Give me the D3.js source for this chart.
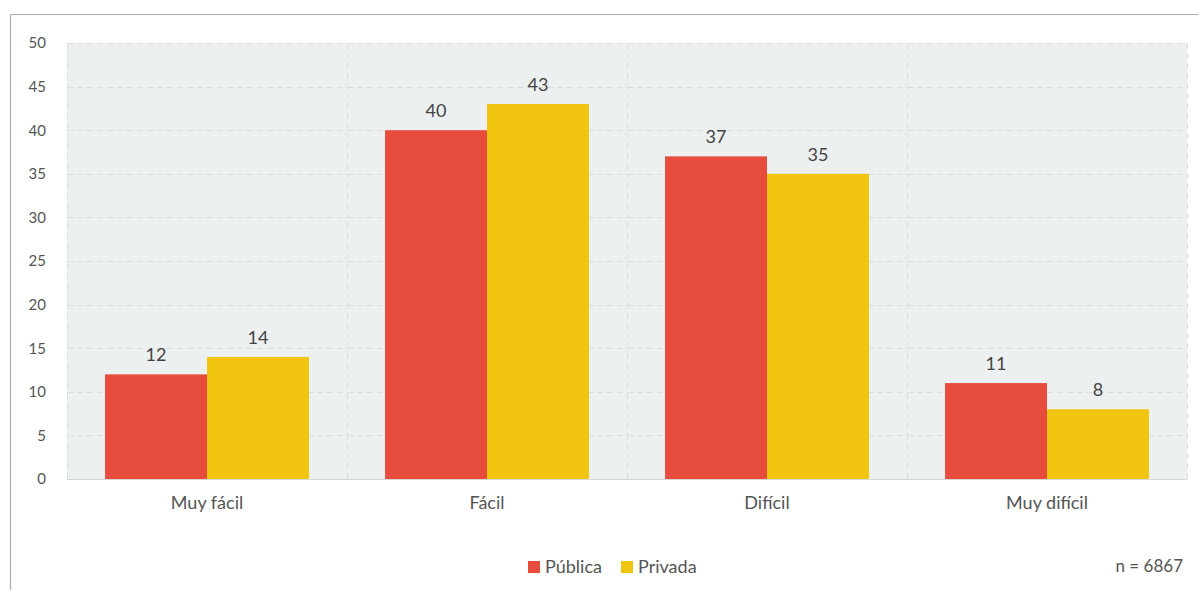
<!DOCTYPE html>
<html>
<head>
<meta charset="utf-8">
<script src="https://cdn.jsdelivr.net/npm/d3@7"></script>
<style>
  html, body { margin: 0; padding: 0; background: #fff; }
  svg { display: block; font-family: Lato, "Open Sans", sans-serif; }
</style>
</head>
<body>
<svg id="chart" width="1198" height="590"></svg>
<script>
// Ease of access by school type (percent)
const categories = ["Muy fácil", "Fácil", "Difícil", "Muy difícil"];
const seriesNames = ["Pública", "Privada"];
const publica = [12, 40, 37, 11];
const privada = [14, 43, 35, 8];
const yTicks = [0, 5, 10, 15, 20, 25, 30, 35, 40, 45, 50];
const colors = ["#E84C3D", "#F1C40F"];
const sampleNote = "n = 6867";

const svg = d3.select("#chart");
const W = 1198, H = 590;
const m = { left: 67, right: 11, top: 43, bottom: 111 };
const plotW = W - m.left - m.right;
const plotH = H - m.top - m.bottom;

// Card frame (top and left edges)
svg.append("line").attr("x1", 10.5).attr("x2", W).attr("y1", 14.5).attr("y2", 14.5)
  .attr("stroke", "#b0aaaa").attr("stroke-width", 1.2);
svg.append("line").attr("x1", 10.5).attr("x2", 10.5).attr("y1", 14.5).attr("y2", H)
  .attr("stroke", "#b0aaaa").attr("stroke-width", 1.2);

const g = svg.append("g").attr("transform", `translate(${m.left},${m.top})`);

const x0 = d3.scaleBand().domain(categories).range([0, plotW]).paddingInner(0).paddingOuter(0);
const x1 = d3.scaleBand().domain(seriesNames).range([0, x0.bandwidth()]).paddingInner(0).paddingOuter(0.373);
const y = d3.scaleLinear().domain([0, 50]).range([plotH, 0]);

// Plot background
g.append("rect").attr("width", plotW).attr("height", plotH).attr("fill", "#ECF0F1");

// Horizontal grid
g.append("g").selectAll("line").data(yTicks).join("line")
  .attr("x1", 0).attr("x2", plotW)
  .attr("y1", d => Math.round(y(d)) + 0.5).attr("y2", d => Math.round(y(d)) + 0.5)
  .attr("stroke", "#d9dfe1").attr("stroke-dasharray", "6,4");

// Vertical grid at band edges
const vEdges = categories.map(c => x0(c)).concat([plotW]);
g.append("g").selectAll("line").data(vEdges).join("line")
  .attr("x1", d => Math.round(d) + 0.5).attr("x2", d => Math.round(d) + 0.5)
  .attr("y1", 0).attr("y2", plotH)
  .attr("stroke", "#d9dfe1").attr("stroke-dasharray", "6,4");

// Bars
const rows = categories.map((c, i) => ({ cat: c, vals: [publica[i], privada[i]] }));
const grp = g.selectAll(".grp").data(rows).join("g")
  .attr("transform", d => `translate(${x0(d.cat)},0)`);

grp.selectAll("rect").data(d => d.vals.map((v, k) => ({ v, k })))
  .join("rect")
  .attr("x", d => x1(seriesNames[d.k]))
  .attr("width", x1.bandwidth())
  .attr("y", d => y(d.v))
  .attr("height", d => plotH - y(d.v))
  .attr("fill", d => colors[d.k]);

grp.selectAll("text").data(d => d.vals.map((v, k) => ({ v, k })))
  .join("text")
  .attr("x", d => x1(seriesNames[d.k]) + x1.bandwidth() / 2)
  .attr("y", d => y(d.v) - 13)
  .attr("text-anchor", "middle")
  .attr("font-size", 18)
  .attr("fill", "#444")
  .text(d => d.v);

// Baseline
g.append("line").attr("x1", 0).attr("x2", plotW).attr("y1", plotH + 0.5).attr("y2", plotH + 0.5)
  .attr("stroke", "#d6d6d6");

// Y axis labels
const yAxis = g.append("g").call(d3.axisLeft(y).tickValues(yTicks).tickSize(0).tickPadding(21));
yAxis.select(".domain").remove();
yAxis.selectAll("text").attr("font-size", 15).attr("fill", "#555")
  .attr("font-family", "Lato, sans-serif");

// X axis labels
const xAxis = g.append("g").attr("transform", `translate(0,${plotH})`)
  .call(d3.axisBottom(x0).tickSize(0).tickPadding(17));
xAxis.select(".domain").remove();
xAxis.selectAll("text").attr("font-size", 18).attr("fill", "#555")
  .attr("font-family", "Lato, sans-serif");

// Legend
const legend = svg.append("g").attr("transform", "translate(528,561)");
const legItems = [{ name: seriesNames[0], x: 0 }, { name: seriesNames[1], x: 93 }];
legItems.forEach((it, i) => {
  legend.append("rect").attr("x", it.x).attr("y", 0).attr("width", 12).attr("height", 12)
    .attr("fill", colors[i]);
  legend.append("text").attr("x", it.x + 17).attr("y", 12)
    .attr("font-size", 18).attr("fill", "#555").text(it.name);
});

// Sample size note
svg.append("text").attr("x", 1183).attr("y", 572).attr("text-anchor", "end")
  .attr("font-size", 17).attr("fill", "#555").text(sampleNote);
</script>
</body>
</html>
